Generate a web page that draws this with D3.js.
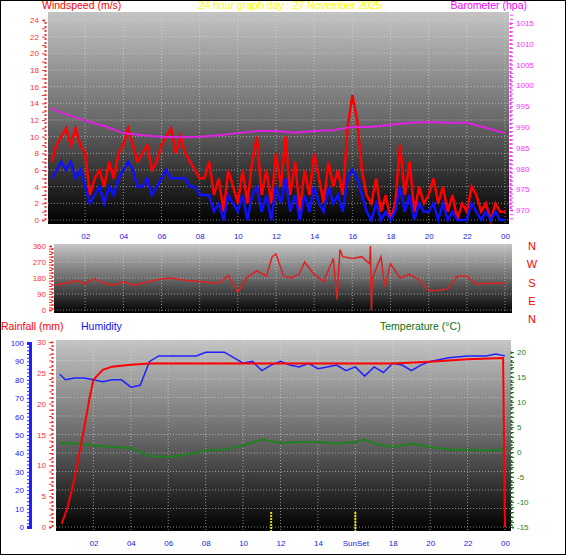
<!DOCTYPE html>
<html><head><meta charset="utf-8">
<script src="https://cdn.jsdelivr.net/npm/d3@7"></script>
<style>body{margin:0;background:#fff}svg{display:block;font-family:"Liberation Sans",Arial,sans-serif}</style>
</head><body><svg id="c" width="566" height="555"></svg>
<script>
// wind, every 15 min from 00:15
const gust = [7,9,10,11, 9,11,9,8, 3,5,6,4, 7,5,8,9, 11,9,7,8, 9,6,7,9, 10,11,8,10, 8,7,6,5, 5,7,3,5, 1,6,4,2,
  6,2,7,10, 3,6,2,8, 4,10,3,7, 1,6,3,8, 5,2,7,4, 6,3,11,15, 12,6,3,2, 5,1,3,0, 2,9,3,7, 1,4,2,3, 5,2,4,1, 3,0,2,1, 4,3,1,2, 0,2,1,1];
const avgWind = [5,6,7,6, 7,5,6,4, 2,3,4,2, 4,3,5,6, 7,6,4,4, 5,3,4,5, 6,5,5,5, 5,4,4,3, 3,3,1,2, 0,3,2,1,
  3,0,3,4, 1,3,0,4, 2,5,1,3, 0,3,1,4, 2,1,4,2, 3,1,5,6, 5,3,1,0, 2,0,1,0, 1,4,1,3, 0,2,1,1, 2,0,2,0, 1,0,0,0, 2,1,0,1, 0,1,0,0];
const baroHours = [0.2,1,2,3,4,5,6,7,8,9,10,11,12,13,14,15,16,17,18,19,20,21,22,23,24];
const baro = [994.5,993,991.5,990.2,988.5,988,987.6,987.5,987.6,988,988.5,989,989,988.6,989,989.2,990,990,990.5,991,991.2,991,991,989.8,988.5];
const dirHours = [0.4,1,1.5,2,2.5,3,3.5,4,4.5,5,5.5,6,6.5,7,7.5,8,8.5,9,9.5,10,10.5,11,11.5,11.8,12,12.4,12.8,13.2,13.5,14,14.5,15,15.2,15.35,15.5,16,16.5,16.9,16.95,17,17.05,17.5,17.7,18,18.5,19,19.5,20,20.5,21,21.5,22,22.5,23,24];
const dir = [140,150,165,150,175,150,140,160,140,150,165,175,180,170,165,160,155,150,195,100,185,220,190,300,315,190,180,200,270,200,160,290,60,340,300,290,300,260,360,0,180,300,130,260,180,200,170,110,110,120,190,190,145,150,150];
const rainHours = [0.3,0.6,1,1.5,1.8,2,2.5,3,4,5,10,18,20,21,22,23.9,24];
const rain = [0.5,3,8,16,21,23.9,25.5,26,26.3,26.5,26.5,26.5,26.8,27,27.2,27.4,0];
const humHours = [0.2,0.5,1,1.5,2,2.5,3,3.5,4,4.5,5,5.5,6,7,7.5,8,9,9.5,10,10.5,11,11.5,12,12.5,13,13.5,14,14.5,15,15.5,16,16.5,17,17.5,18,18.5,19,19.5,20,21,22,23,23.5,24];
const hum = [83,80,81,81,80,79,80,80,76,77,90,93,93,93,93,95,95,92,89,90,85,88,90,88,87,89,86,87,88,85,87,82,87,84,89,88,85,88,90,92,93,93,94,93];
const tempHours = [0.2,1,2,3,4,5,6,7,8,9,10,11,12,13,14,15,16,16.5,17,18,19,20,21,22,23,24];
const temp = [1.8,1.7,1.3,1,0.8,-0.8,-1,-0.5,0.3,0.5,1.3,2.5,1.8,2,2,1.7,2,2.5,1.7,1,1.7,1,0.5,0.4,0.3,0.5];
const hourTicks = d3.range(2, 25, 2);

const svg = d3.select('#c');
svg.append('rect').attr('x', 0.5).attr('y', 0.5).attr('width', 565).attr('height', 554).attr('fill', '#fff').attr('stroke', '#000');

const grad = svg.append('defs').append('linearGradient').attr('id', 'bg').attr('x1', 0).attr('x2', 0).attr('y1', 0).attr('y2', 1);
grad.append('stop').attr('offset', 0).attr('stop-color', '#c4c4c4');
grad.append('stop').attr('offset', 0.5).attr('stop-color', '#6a6a6a');
grad.append('stop').attr('offset', 1).attr('stop-color', '#000');

function panel(x0, x1, y0, y1, xs, ys, yTicks) {
  svg.append('rect').attr('x', x0).attr('y', y0).attr('width', x1 - x0).attr('height', y1 - y0).attr('fill', 'url(#bg)');
  const g = svg.append('g').attr('stroke', '#ddd').attr('stroke-opacity', 0.6).attr('stroke-dasharray', '1,2');
  hourTicks.forEach(h => g.append('line').attr('x1', xs(h)).attr('x2', xs(h)).attr('y1', y0).attr('y2', y1));
  yTicks.forEach(t => g.append('line').attr('x1', x0).attr('x2', x1).attr('y1', ys(t)).attr('y2', ys(t)));
}
function styleAxis(a, color) {
  a.select('.domain').attr('stroke', color).attr('stroke-dasharray', '2,2').attr('stroke-width', 2);
  a.selectAll('line').attr('stroke', color);
  a.selectAll('text').attr('fill', color).attr('font-size', 8);
  return a;
}
function leftAxis(x, ys, ticks, color, fmt) {
  return styleAxis(svg.append('g').attr('transform', `translate(${x},0)`)
    .call(d3.axisLeft(ys).tickValues(ticks).tickSize(3).tickFormat(fmt)), color);
}
function rightAxis(x, ys, ticks, color, fmt) {
  return styleAxis(svg.append('g').attr('transform', `translate(${x},0)`)
    .call(d3.axisRight(ys).tickValues(ticks).tickSize(3).tickFormat(fmt)), color);
}
function bottomAxis(y, xs, fmt) {
  const a = svg.append('g').attr('transform', `translate(0,${y})`)
    .call(d3.axisBottom(xs).tickValues(hourTicks).tickSize(0).tickPadding(5).tickFormat(fmt));
  a.select('.domain').remove();
  a.selectAll('text').attr('fill', '#2020e0').attr('font-size', 8);
}
const hh = h => d3.format('02')(h % 24);
const every = n => d => d % n ? '' : d;
const text = (x, y, s, c, anchor) => svg.append('text').attr('x', x).attr('y', y).attr('fill', c)
  .attr('font-size', 10.5).attr('text-anchor', anchor || 'start').text(s);
const line = (xf, yf) => d3.line().x(xf).y(yf);

// ---------- wind / barometer
const xT = d3.scaleLinear().domain([0, 24]).range([47, 505]);
const yW = d3.scaleLinear().domain([0, 24]).range([220, 20]);
const yB = d3.scaleLinear().domain([970, 1015]).range([210, 23]);
panel(48, 509, 12, 224, xT, yW, d3.range(0, 25, 2));
leftAxis(45, yW, d3.range(0, 25, 1), '#ff3030', every(2));
rightAxis(510, yB, d3.range(968, 1018, 1), '#ff30ff', every(5));
bottomAxis(228, xT, hh);
const windT = (d, i) => xT(0.25 + i * 0.25);
svg.append('path').datum(gust).attr('d', line(windT, d => yW(d))).attr('fill', 'none').attr('stroke', '#ff0000').attr('stroke-width', 2.5);
svg.append('path').datum(avgWind).attr('d', line(windT, d => yW(d))).attr('fill', 'none').attr('stroke', '#1010ff').attr('stroke-width', 2.5);
svg.append('path').datum(baro).attr('d', line((d, i) => xT(baroHours[i]), d => yB(d))).attr('fill', 'none').attr('stroke', '#e020e0').attr('stroke-width', 2);
text(42, 9, 'Windspeed (m/s)', '#ff0000');
text(290, 9, '24 hour graph day : 27 November 2025', '#ffff00', 'middle');
text(527, 9, 'Barometer (hpa)', '#ff00ff', 'end');

// ---------- direction
const yD = d3.scaleLinear().domain([0, 360]).range([310, 246]);
panel(54, 512, 244, 313, xT, yD, [0, 90, 180, 270, 360]);
leftAxis(52, yD, d3.range(0, 361, 15), '#ff3030', every(90));
svg.append('path').datum(dir).attr('d', line((d, i) => xT(dirHours[i]), d => yD(d))).attr('fill', 'none').attr('stroke', '#e02020').attr('stroke-width', 1.5);
['N', 'W', 'S', 'E', 'N'].forEach((s, i) => svg.append('text').attr('x', 532).attr('y', 250 + i * 18.3)
  .attr('fill', '#ff0000').attr('font-size', 11).attr('text-anchor', 'middle').text(s));

// ---------- rain / humidity / temperature
const xB = d3.scaleLinear().domain([0, 24]).range([56, 505]);
const yR = d3.scaleLinear().domain([0, 30]).range([527, 342]);
const yH = d3.scaleLinear().domain([0, 100]).range([527, 343]);
const yTm = d3.scaleLinear().domain([-15, 20]).range([527, 352]);
panel(56, 511, 340, 531, xB, yR, d3.range(0, 31, 3));
leftAxis(52, yR, d3.range(0, 31, 1), '#ff3030', every(5));
const ha = leftAxis(30, yH, d3.range(0, 101, 2), '#2020ff', every(10));
ha.select('.domain').attr('stroke-dasharray', null).attr('stroke-width', 3);
rightAxis(511, yTm, d3.range(-15, 21, 1), '#208020', every(5));
bottomAxis(535, xB, h => h === 16 ? 'SunSet' : hh(h));
[11.5, 16].forEach(h => svg.append('line').attr('x1', xB(h)).attr('x2', xB(h)).attr('y1', 512).attr('y2', 531)
  .attr('stroke', '#e0e000').attr('stroke-width', 2).attr('stroke-dasharray', '2,1'));
svg.append('path').datum(temp).attr('d', line((d, i) => xB(tempHours[i]), d => yTm(d))).attr('fill', 'none').attr('stroke', '#208020').attr('stroke-width', 2);
svg.append('path').datum(hum).attr('d', line((d, i) => xB(humHours[i]), d => yH(d))).attr('fill', 'none').attr('stroke', '#2020ff').attr('stroke-width', 1.5);
svg.append('path').datum(rain).attr('d', line((d, i) => xB(rainHours[i]), d => yR(d))).attr('fill', 'none').attr('stroke', '#ff0000').attr('stroke-width', 2);
text(1, 330, 'Rainfall (mm)', '#ff0000');
text(81, 330, 'Humidity', '#1010ff');
text(380, 330, 'Temperature (°C)', '#107010');
</script></body></html>
